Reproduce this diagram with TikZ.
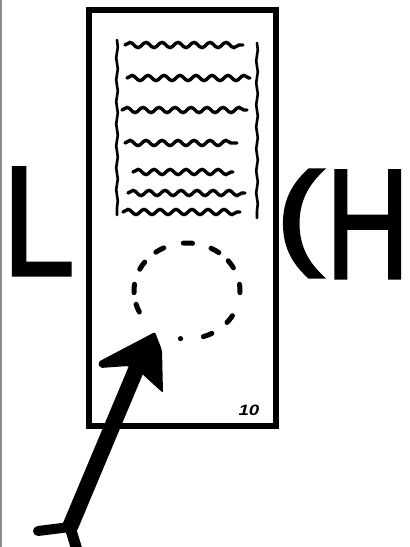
\documentclass[tikz,border=0pt]{standalone}
\usepackage{fontspec}
\font\lettersfont="Liberation Sans:embolden=2" at 156pt
\font\parenfont="Liberation Sans:embolden=3.5" at 156pt
\newfontfamily\numfont{Liberation Sans}
\usetikzlibrary{decorations.pathmorphing,calc}
\begin{document}
\begin{tikzpicture}[x=1pt,y=-1pt,
  frame/.style={draw=black, line width=6.5pt, inner sep=0pt, outer sep=0pt},
  wave/.style={draw=black, line width=3.4pt, line cap=round, decorate,
    decoration={snake, amplitude=2.6pt, segment length=16pt}},
  side/.style={draw=black, line width=2.6pt, line cap=round, decorate,
    decoration={snake, amplitude=0.8pt, segment length=22pt}},
  dotmark/.style={draw=black, line width=5pt, line cap=round},
  bigletter/.style={inner sep=0pt, outer sep=0pt, font=\lettersfont},
  pen/.style={draw=black, line cap=round},
]
\useasboundingbox (0,0) rectangle (410,547);
\fill[white] (0,0) rectangle (410,547);
\draw[black!45, line width=1.5pt] (1,0) -- (1,547);

% card
\node[frame, minimum width=187pt, minimum height=416pt] (card) at (182.5,218) {};

% text block
\draw[side] (117,40) -- (117,215);
\draw[side] (257,43) -- (257,218);
\draw[wave] (125,45) -- (243,45);
\draw[wave] (127,78) -- (250,78);
\draw[wave] (122,110) -- (247,110);
\draw[wave] (125,143) -- (237,143);
\draw[wave] (133,172) -- (233,172);
\draw[wave] (128,193) -- (245,193);
\draw[wave] (123,212) -- (240,212);

% dotted ring
\coordinate (ring) at (187,291);
\foreach \a in {-121,-89,-58,-34,-3,36,67,159,183,212}{
  \draw[dotmark] ($(ring)+({53*cos(\a-5)},{48*sin(\a-5)})$)
    arc[start angle=\a-5, end angle=\a+5, x radius=53, y radius=48];
}
\fill[black] ($(ring)+({53*cos(97)},{48*sin(97)})$) circle (2.6pt);

% arrow
\coordinate (tip) at (155,332);
\coordinate (neck) at (138,365);
\coordinate (fork) at (70,527);
\fill[black, rounded corners=2pt] (tip) -- (162,350) -- (163,393) -- (140,372)
  -- (128,366) -- (100,368) -- (98,362) -- cycle;
\draw[pen, line width=16pt, line cap=butt] (neck) -- (fork);
\draw[pen, line width=10pt] (fork) -- (38,531);
\draw[pen, line width=11pt, line cap=butt] (fork) -- (77,550);

% letters
\node[bigletter, xscale=0.83, anchor=base west] (L) at (2.5,275) {L};
\node[bigletter, font=\parenfont, xscale=0.86, yscale=0.73, anchor=base west] (paren) at (277,253) {(};
\node[bigletter, xscale=0.74, anchor=base west] (H) at (326,278) {H};

% page number
\node[inner sep=0pt, xscale=1.25,
  font=\numfont\bfseries\itshape\fontsize{15}{15}\selectfont] (pagenum) at (249,410.5) {10};
\end{tikzpicture}
\end{document}
